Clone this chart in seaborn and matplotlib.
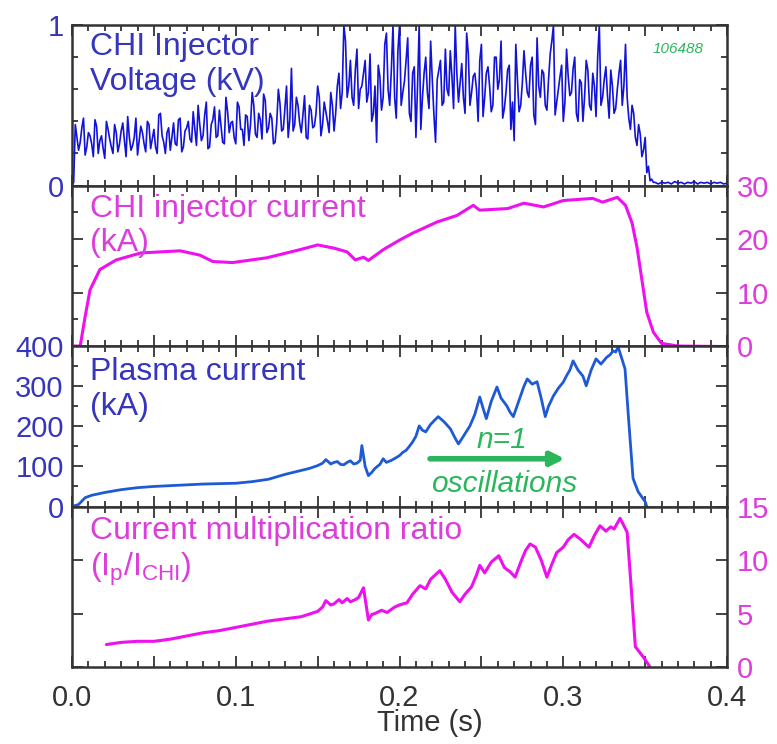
import numpy as np
import matplotlib.pyplot as plt
import seaborn as sns
from matplotlib.ticker import MultipleLocator, FuncFormatter

# ---------------------------------------------------
# data
# ---------------------------------------------------

# CHI injector voltage (kV), even samples: every 2 ms from t = 0
volt_kv = [
    0.0, 0.38, 0.22, 0.36, 0.19, 0.33, 0.26, 0.41, 0.2, 0.31,
    0.17, 0.35, 0.24, 0.38, 0.21, 0.34, 0.28, 0.43, 0.22, 0.3,
    0.19, 0.37, 0.26, 0.4, 0.23, 0.35, 0.2, 0.45, 0.27, 0.33,
    0.22, 0.39, 0.25, 0.42, 0.24, 0.36, 0.29, 0.46, 0.25, 0.38,
    0.31, 0.52, 0.24, 0.41, 0.3, 0.47, 0.27, 0.55, 0.33, 0.4,
    0.26, 0.49, 0.35, 0.44, 0.28, 0.58, 0.32, 0.45, 0.29, 0.53,
    0.36, 0.42, 0.27, 0.6, 0.34, 0.48, 0.3, 0.73, 0.38, 0.5,
    0.33, 0.56, 0.29, 0.47, 0.37, 0.62, 0.31, 0.52, 0.4, 0.58,
    0.34, 0.62, 0.48, 1.0, 0.55, 0.78, 0.5, 0.85, 0.6, 0.7,
    0.52, 0.82, 0.45, 0.27, 0.68, 0.55, 0.95, 0.5, 1.0, 0.42,
    1.0, 0.58, 0.78, 0.45, 0.7, 0.3, 1.0, 0.55, 0.8, 0.48,
    0.66, 0.27, 0.72, 0.5, 0.85, 0.56, 0.68, 1.0, 0.52, 0.76,
    0.45, 0.82, 0.58, 0.7, 0.4, 0.88, 0.55, 0.74, 0.46, 0.8,
    0.6, 0.9, 0.48, 0.72, 0.35, 0.28, 0.66, 0.5, 0.84, 0.58,
    0.75, 0.44, 0.92, 0.55, 0.7, 0.47, 0.82, 1.0, 0.52, 0.68,
    0.4, 0.85, 0.56, 0.73, 0.45, 0.66, 0.4, 0.78, 0.5, 0.7,
    0.43, 1.0, 0.55, 0.74, 0.42, 0.62, 0.48, 0.7, 0.5, 0.88,
    0.42, 0.5, 0.3, 0.38, 0.18, 0.3, 0.12, 0.04, 0.02, 0.01,
    0.02, 0.015, 0.02, 0.01, 0.025, 0.015, 0.02, 0.01, 0.02, 0.015,
    0.025, 0.01, 0.02, 0.015, 0.02, 0.01, 0.02, 0.015, 0.02, 0.01,
    0.015,
]
# odd samples: t = 0.001, 0.003, ... 0.355 s
volt_kv_odd = [
    0.02,
    0.3, 0.27, 0.42, 0.24, 0.31, 0.18, 0.37, 0.28, 0.23, 0.4,
    0.29, 0.2, 0.33, 0.26, 0.39, 0.18, 0.3, 0.25, 0.42, 0.28,
    0.33, 0.21, 0.38, 0.29, 0.24, 0.44, 0.31, 0.2, 0.36, 0.3,
    0.26, 0.41, 0.21, 0.34,
    0.4, 0.27, 0.35, 0.5, 0.28, 0.44, 0.23, 0.38, 0.49, 0.31,
    0.37, 0.26, 0.46, 0.39, 0.3, 0.52, 0.35, 0.25, 0.43, 0.38,
    0.5, 0.3, 0.41, 0.57, 0.33, 0.45, 0.26, 0.39, 0.51, 0.35,
    0.62, 0.41, 0.34, 0.55, 0.39, 0.44, 0.3, 0.5, 0.36, 0.45,
    0.55, 0.38, 0.46, 0.33, 0.5,
    0.45, 0.7, 0.58, 0.9, 0.62, 0.55, 0.72, 0.48,
    0.62, 0.78, 0.58, 0.4, 0.62, 0.75, 0.47, 0.88, 0.6, 0.72,
    0.55, 0.84, 0.5, 0.65, 0.92, 0.4, 0.74, 0.62, 0.35, 0.7,
    0.58, 0.9, 0.44, 0.66, 0.78, 0.52, 0.6, 0.84, 0.48, 0.7,
    0.64, 0.55, 0.95, 0.5, 0.68, 0.6, 0.78, 0.43, 0.7, 0.62,
    0.5, 0.8, 0.66, 0.42, 0.58, 0.75, 0.52, 0.88, 0.46, 0.64,
    0.7, 0.55, 0.8, 0.38, 0.62, 0.72, 0.5, 0.66, 0.9, 0.44,
    0.6, 0.75, 0.52, 0.68, 0.58, 0.8, 0.4, 0.64, 0.55, 0.72,
    0.47, 0.62, 0.8, 0.5, 0.66, 0.56, 0.72, 0.45, 0.6, 0.78,
    0.62, 0.55, 0.35, 0.45, 0.25, 0.32, 0.22, 0.08, 0.03, 0.02,
]
volt_dt = 0.002

# CHI injector current (kA)
chi_t = [0, 0.005, 0.008, 0.011, 0.017, 0.027, 0.042, 0.054, 0.066, 0.078,
         0.086, 0.098, 0.119, 0.139, 0.15, 0.16, 0.168, 0.173, 0.178, 0.181,
         0.19, 0.2, 0.208, 0.223, 0.235, 0.245, 0.249, 0.266, 0.276, 0.288,
         0.3, 0.318, 0.324, 0.333, 0.338, 0.342, 0.345, 0.348, 0.351, 0.355,
         0.36, 0.37, 0.4]
chi_ka = [0, 0, 5.5, 10.5, 14.3, 16.1, 17.4, 17.6, 17.8, 17.0,
          15.8, 15.6, 16.5, 18.0, 18.9, 18.3, 17.6, 16.1, 16.6, 16.0,
          18.0, 19.8, 21.1, 23.2, 24.4, 26.3, 25.4, 25.7, 26.7, 26.0,
          27.2, 27.6, 26.9, 27.8, 26.3, 23.0, 18.5, 12.4, 6.3, 2.6,
          0.5, 0.0, -0.1]

# plasma current (kA)
ip_t = [0, 0.004, 0.008, 0.012, 0.02, 0.03, 0.04, 0.05, 0.06, 0.07,
        0.08, 0.09, 0.1, 0.11, 0.12, 0.13, 0.14, 0.145, 0.15, 0.153,
        0.155, 0.158, 0.16, 0.162, 0.164, 0.166, 0.168, 0.17, 0.172, 0.174,
        0.176, 0.177, 0.179, 0.181, 0.183, 0.185, 0.188, 0.19, 0.192, 0.195,
        0.198, 0.2, 0.202, 0.204, 0.206, 0.208, 0.21, 0.212, 0.214, 0.216,
        0.219, 0.2236, 0.227, 0.231, 0.234, 0.236, 0.239, 0.243, 0.246, 0.249,
        0.251, 0.253, 0.256, 0.2595, 0.262, 0.2655, 0.2675, 0.2695, 0.273, 0.276,
        0.278, 0.281, 0.284, 0.2865, 0.289, 0.291, 0.294, 0.297, 0.3, 0.302,
        0.304, 0.306, 0.309, 0.312, 0.314, 0.317, 0.32, 0.323, 0.3265, 0.3285,
        0.3305, 0.332, 0.3335, 0.3377, 0.34, 0.3426, 0.3457, 0.35, 0.351]
ip_ka = [0, 5, 22, 28, 35, 42, 47, 50, 52, 54,
         56, 57, 58, 62, 68, 80, 90, 95, 102, 108,
         117, 106, 110, 112, 105, 104, 110, 114, 106, 108,
         115, 152, 100, 77, 85, 95, 105, 119, 110, 115,
         122, 127, 135, 140, 150, 161, 175, 201, 190, 186,
         205, 224, 212, 194, 170, 156, 175, 201, 230, 273,
         245, 219, 262, 298, 270, 251, 235, 224, 265, 300,
         318, 305, 311, 270, 224, 250, 276, 295, 310, 326,
         340, 363, 340, 325, 301, 340, 368, 355, 372, 378,
         388, 385, 398, 343, 211, 70, 37, 12, 0]

# current multiplication ratio Ip / I_CHI
ratio_t = [0.021, 0.03, 0.04, 0.05, 0.06, 0.07, 0.08, 0.09, 0.1, 0.11,
           0.12, 0.13, 0.14, 0.15, 0.153, 0.155, 0.158, 0.16, 0.163, 0.165,
           0.168, 0.17, 0.173, 0.175, 0.178, 0.181, 0.183, 0.185, 0.189, 0.1924,
           0.197, 0.2, 0.2045, 0.208, 0.2125, 0.216, 0.219, 0.2246, 0.228, 0.232,
           0.2368, 0.24, 0.244, 0.247, 0.249, 0.252, 0.256, 0.2606, 0.264, 0.2675,
           0.2706, 0.274, 0.277, 0.2797, 0.283, 0.2865, 0.29, 0.293, 0.296, 0.3,
           0.303, 0.3066, 0.31, 0.3157, 0.319, 0.3224, 0.326, 0.329, 0.331, 0.3347,
           0.339, 0.342, 0.344, 0.349, 0.353]
ratio = [2.1, 2.3, 2.4, 2.4, 2.6, 2.9, 3.2, 3.4, 3.7, 4.0,
         4.3, 4.5, 4.7, 5.2, 5.6, 6.2, 5.8, 5.9, 6.3, 6.0,
         6.4, 6.1, 6.3, 6.5, 7.4, 4.4, 4.9, 5.0, 5.3, 5.1,
         5.6, 5.8, 6.0, 6.8, 7.6, 7.3, 8.2, 9.0, 8.2, 7.0,
         6.1, 6.8, 7.5, 8.6, 9.5, 8.8, 9.8, 10.4, 9.3, 8.9,
         8.4, 9.8, 10.9, 11.5, 11.2, 10.0, 8.4, 9.6, 10.7, 11.2,
         11.9, 12.4, 12.0, 11.2, 12.3, 13.2, 12.7, 13.1, 12.9, 13.9,
         12.6, 6.3, 1.9, 0.9, 0.0]

# merge even and odd voltage samples into one trace
volt_t = np.concatenate([np.arange(len(volt_kv)) * volt_dt,
                         0.001 + np.arange(len(volt_kv_odd)) * volt_dt])
volt_v = np.concatenate([volt_kv, volt_kv_odd])
order = np.argsort(volt_t)
volt_t, volt_v = volt_t[order], volt_v[order]

# ---------------------------------------------------
# style
# ---------------------------------------------------

sns.set_style("ticks")
plt.rcParams['font.family'] = ['Liberation Sans', 'DejaVu Sans']

BLUE_LINE = "#1212d8"
BLUE_TXT = "#3535bd"
IP_LINE = "#1f5ad6"
MAG_LINE = "#ee10ee"
MAG_TXT = "#dc3ddc"
GREEN = "#2cb65c"
AX_COL = "#333333"
TICK_FS = 21
LABEL_FS = 23

fig = plt.figure(figsize=(7.77, 7.44), dpi=100)

left, width = 0.0927, 0.843
h = 0.2157
bottoms = [0.7506, 0.5349, 0.3192, 0.1035]
axes = [fig.add_axes([left, b, width, h]) for b in bottoms]

for ax in axes:
    ax.set_xlim(0, 0.4)
    ax.xaxis.set_major_locator(MultipleLocator(0.05))
    ax.xaxis.set_minor_locator(MultipleLocator(0.01))
    ax.tick_params(axis='both', which='both', direction='in',
                   top=True, bottom=True, left=True, right=True,
                   color=AX_COL, width=1.3)
    ax.tick_params(which='major', length=8)
    ax.tick_params(which='minor', length=4)
    ax.tick_params(axis='x', labelbottom=False)
    for sp in ax.spines.values():
        sp.set_color(AX_COL)
        sp.set_linewidth(1.8)
    ax.set_facecolor('white')

# ---- panel 1: voltage
ax1 = axes[0]
sns.lineplot(x=volt_t, y=volt_v, ax=ax1, color=BLUE_LINE, lw=1.2,
             errorbar=None, sort=False)
ax1.set_ylim(0, 1)
ax1.yaxis.set_major_locator(MultipleLocator(1))
ax1.yaxis.set_minor_locator(MultipleLocator(0.2))
ax1.tick_params(axis='y', labelleft=True, labelright=False,
                labelsize=TICK_FS, labelcolor=BLUE_TXT, pad=6)
ax1.text(0.0275, 0.956, "CHI Injector\nVoltage (kV)", transform=ax1.transAxes,
         ha='left', va='top', fontsize=LABEL_FS, color=BLUE_TXT)
ax1.text(0.925, 0.85, "106488", transform=ax1.transAxes, ha='center',
         va='center', fontsize=11, style='italic', color=GREEN)

# ---- panel 2: CHI injector current
ax2 = axes[1]
sns.lineplot(x=chi_t, y=chi_ka, ax=ax2, color=MAG_LINE, lw=2.2,
             errorbar=None, sort=False)
ax2.set_ylim(0, 30)
ax2.yaxis.set_major_locator(MultipleLocator(10))
ax2.yaxis.set_minor_locator(MultipleLocator(5))
ax2.tick_params(axis='y', labelleft=False, labelright=True,
                labelsize=TICK_FS, labelcolor=MAG_TXT, pad=7)
ax2.text(0.0275, 0.948, "CHI injector current\n(kA)", transform=ax2.transAxes,
         ha='left', va='top', fontsize=LABEL_FS, color=MAG_TXT)

# ---- panel 3: plasma current
ax3 = axes[2]
sns.lineplot(x=ip_t, y=ip_ka, ax=ax3, color=IP_LINE, lw=2.0,
             errorbar=None, sort=False)
ax3.set_ylim(0, 400)
ax3.yaxis.set_major_locator(MultipleLocator(100))
ax3.yaxis.set_minor_locator(MultipleLocator(50))
ax3.tick_params(axis='y', labelleft=True, labelright=False,
                labelsize=TICK_FS, labelcolor=BLUE_TXT, pad=6)
ax3.text(0.0275, 0.929, "Plasma current\n(kA)", transform=ax3.transAxes,
         ha='left', va='top', fontsize=LABEL_FS, color=BLUE_TXT)
ax3.annotate("", xy=(0.301, 119), xytext=(0.2186, 119),
             arrowprops=dict(arrowstyle='-|>,head_length=0.8,head_width=0.4',
                             lw=4, color=GREEN, shrinkA=0, shrinkB=0))
ax3.text(0.2626, 166, "n=1", ha='center', va='center', fontsize=21.5,
         style='italic', color=GREEN)
ax3.text(0.2638, 57, "oscillations", ha='center', va='center', fontsize=21.5,
         style='italic', color=GREEN)

# ---- panel 4: multiplication ratio
ax4 = axes[3]
sns.lineplot(x=ratio_t, y=ratio, ax=ax4, color=MAG_LINE, lw=2.2,
             errorbar=None, sort=False)
ax4.set_ylim(0, 15)
ax4.yaxis.set_major_locator(MultipleLocator(5))
ax4.tick_params(axis='y', labelleft=False, labelright=True,
                labelsize=TICK_FS, labelcolor=MAG_TXT, pad=7)
ax4.text(0.0275, 0.943,
         "Current multiplication ratio\n(I$_\\mathregular{p}$/I$_\\mathregular{CHI}$)",
         transform=ax4.transAxes, ha='left', va='top', fontsize=LABEL_FS,
         color=MAG_TXT)
ax4.tick_params(axis='x', labelbottom=True, labelsize=TICK_FS,
                labelcolor=AX_COL, pad=12)
ax4.xaxis.set_major_formatter(FuncFormatter(
    lambda v, p: f"{v:.1f}" if abs(round(v * 10) - v * 10) < 1e-6 else ""))

for ax in axes:
    ax.set_xlabel("")
    ax.set_ylabel("")

fig.text(430 / 777, 1 - 723 / 744, "Time (s)", ha='center', va='center',
         fontsize=TICK_FS, color=AX_COL)

fig.savefig("out.png", dpi=100)
